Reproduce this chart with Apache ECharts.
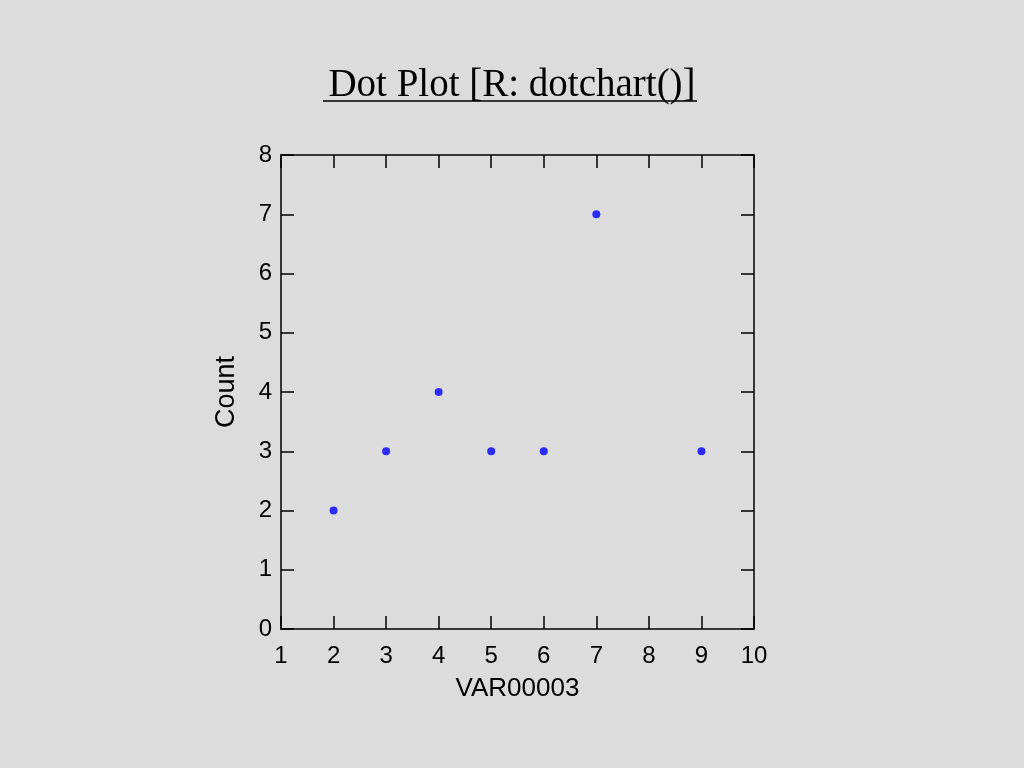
<!DOCTYPE html>
<html><head><meta charset="utf-8">
<script src="https://cdn.jsdelivr.net/npm/echarts@6/dist/echarts.min.js"></script>
<style>html,body{margin:0;padding:0;background:#dcdcdc;}#c{width:1024px;height:768px;}</style>
</head><body><div id="c"></div>
<script>
const xValues = [2, 3, 4, 5, 6, 7, 9];
const counts = [2, 3, 4, 3, 3, 7, 3];
const titleText = 'Dot Plot [R: dotchart()]';
const xName = 'VAR00003';
const yName = 'Count';

const chart = echarts.init(document.getElementById('c'));
const lab = {fontFamily: 'Liberation Sans, Arial, sans-serif', fontSize: 24, color: '#000'};
const axLine = {show: true, onZero: false, lineStyle: {color: '#000', width: 1.5}};
const tick = {show: true, inside: true, length: 13, lineStyle: {color: '#000', width: 1.5}};
chart.setOption({
  backgroundColor: '#dcdcdc',
  animation: false,
  title: {
    text: titleText, left: 'center', top: 61,
    textStyle: {fontFamily: 'Liberation Serif, Times New Roman, serif', fontSize: 39, fontWeight: 'normal', color: '#000'}
  },
  graphic: [{type: 'line', shape: {x1: 323, y1: 101, x2: 697, y2: 101}, style: {stroke: '#000', lineWidth: 1.5}}],
  grid: {left: 281, right: 270, top: 155, bottom: 139},
  xAxis: [
    {type: 'value', min: 1, max: 10, interval: 1, position: 'bottom',
     name: xName, nameLocation: 'middle', nameGap: 47, nameTextStyle: Object.assign({}, lab, {fontSize: 26}),
     axisLine: axLine, axisTick: tick, splitLine: {show: false},
     axisLabel: Object.assign({}, lab, {margin: 15})},
    {type: 'value', min: 1, max: 10, interval: 1, position: 'top',
     axisLine: axLine, axisTick: tick, splitLine: {show: false}, axisLabel: {show: false}}
  ],
  yAxis: [
    {type: 'value', min: 0, max: 8, interval: 1, position: 'left',
     name: yName, nameLocation: 'middle', nameGap: 41, nameTextStyle: Object.assign({}, lab, {fontSize: 27}),
     axisLine: axLine, axisTick: tick, splitLine: {show: false},
     axisLabel: Object.assign({}, lab, {margin: 9})},
    {type: 'value', min: 0, max: 8, interval: 1, position: 'right',
     axisLine: axLine, axisTick: tick, splitLine: {show: false}, axisLabel: {show: false}}
  ],
  series: [{
    type: 'scatter', xAxisIndex: 0, yAxisIndex: 0,
    data: xValues.map((x, i) => [x, counts[i]]),
    symbol: 'circle', symbolSize: 8, itemStyle: {color: '#0000ff'}
  }]
});
</script></body></html>
